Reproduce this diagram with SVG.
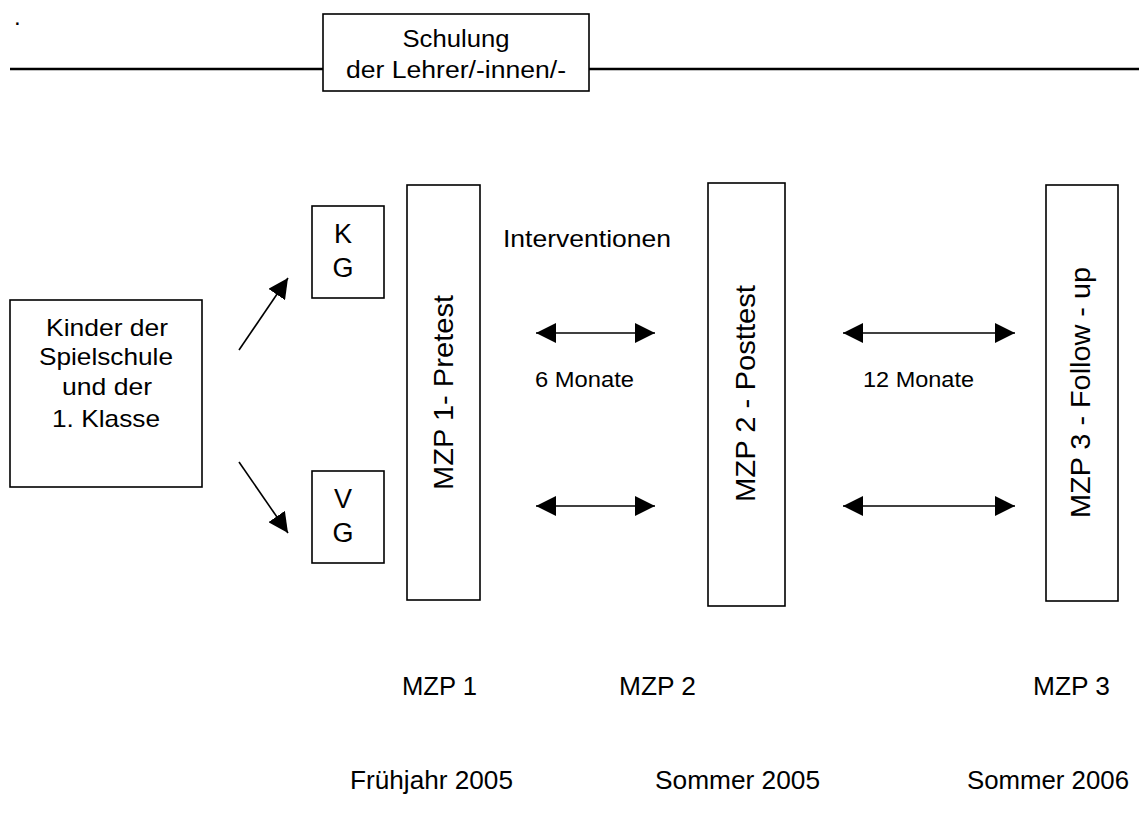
<svg xmlns="http://www.w3.org/2000/svg" width="1139" height="822" viewBox="0 0 1139 822">
<style>
  .box { fill: #fff; stroke: #000; stroke-width: 1.6; }
  .t { font-family: "Liberation Sans", Arial, sans-serif; fill: #000; }
  .conn { stroke: #000; stroke-width: 1.6; fill: none; }
  .rule { stroke: #000; stroke-width: 2.6; fill: none; }
</style>
<defs>
  <marker id="ah" viewBox="0 0 20 20" refX="20" refY="10" markerWidth="20" markerHeight="20" markerUnits="userSpaceOnUse" orient="auto-start-reverse">
    <path d="M0,0 L20,10 L0,20 z" fill="#000"/>
  </marker>
</defs>
<rect width="1139" height="822" fill="#fff"/>

<text class="t" x="14" y="25" font-size="24">.</text>

<g id="schulung-line">
  <line class="rule" x1="10" y1="69" x2="323" y2="69"/>
  <line class="rule" x1="589" y1="69" x2="1139" y2="69"/>
</g>
<g id="schulung">
  <rect class="box" x="323" y="14" width="266" height="77"/>
  <text class="t" x="456" y="47" font-size="23" text-anchor="middle" textLength="107" lengthAdjust="spacingAndGlyphs">Schulung</text>
  <text class="t" x="456" y="78" font-size="23" text-anchor="middle" textLength="220" lengthAdjust="spacingAndGlyphs">der Lehrer/-innen/-</text>
</g>

<g id="kinder">
  <rect class="box" x="10" y="300" width="192" height="187"/>
  <text class="t" x="107" y="336" font-size="24" text-anchor="middle" textLength="122" lengthAdjust="spacingAndGlyphs">Kinder der</text>
  <text class="t" x="106" y="365" font-size="24" text-anchor="middle" textLength="134" lengthAdjust="spacingAndGlyphs">Spielschule</text>
  <text class="t" x="107" y="395" font-size="24" text-anchor="middle" textLength="90" lengthAdjust="spacingAndGlyphs">und der</text>
  <text class="t" x="106" y="427" font-size="24" text-anchor="middle" textLength="108" lengthAdjust="spacingAndGlyphs">1. Klasse</text>
</g>

<g id="kg">
  <rect class="box" x="312" y="206" width="72" height="92"/>
  <text class="t" x="343" y="243" font-size="27" text-anchor="middle">K</text>
  <text class="t" x="343" y="277" font-size="27" text-anchor="middle">G</text>
</g>
<g id="vg">
  <rect class="box" x="312" y="471" width="72" height="92"/>
  <text class="t" x="343" y="508" font-size="27" text-anchor="middle">V</text>
  <text class="t" x="343" y="542" font-size="27" text-anchor="middle">G</text>
</g>

<g id="mzp1">
  <rect class="box" x="407" y="185" width="73" height="415"/>
  <text class="t" transform="translate(453,392.5) rotate(-90)" font-size="28.5" text-anchor="middle" textLength="195" lengthAdjust="spacingAndGlyphs">MZP 1- Pretest</text>
</g>
<g id="mzp2">
  <rect class="box" x="708" y="183" width="77" height="423"/>
  <text class="t" transform="translate(755,393.5) rotate(-90)" font-size="28.5" text-anchor="middle" textLength="217" lengthAdjust="spacingAndGlyphs">MZP 2 - Posttest</text>
</g>
<g id="mzp3">
  <rect class="box" x="1046" y="185" width="72" height="416"/>
  <text class="t" transform="translate(1090,392.5) rotate(-90)" font-size="28.5" text-anchor="middle" textLength="251" lengthAdjust="spacingAndGlyphs">MZP 3 - Follow - up</text>
</g>

<g id="connectors">
  <line class="conn" x1="239" y1="350" x2="288" y2="278" marker-end="url(#ah)"/>
  <line class="conn" x1="239" y1="462" x2="288" y2="533" marker-end="url(#ah)"/>
  <line class="conn" x1="536" y1="333" x2="655" y2="333" marker-start="url(#ah)" marker-end="url(#ah)"/>
  <line class="conn" x1="536" y1="506" x2="655" y2="506" marker-start="url(#ah)" marker-end="url(#ah)"/>
  <line class="conn" x1="843" y1="333" x2="1015" y2="333" marker-start="url(#ah)" marker-end="url(#ah)"/>
  <line class="conn" x1="843" y1="506" x2="1015" y2="506" marker-start="url(#ah)" marker-end="url(#ah)"/>
</g>

<g id="labels">
  <text class="t" x="503" y="247" font-size="24" textLength="168" lengthAdjust="spacingAndGlyphs">Interventionen</text>
  <text class="t" x="535" y="387" font-size="22" textLength="99" lengthAdjust="spacingAndGlyphs">6 Monate</text>
  <text class="t" x="863" y="387" font-size="22" textLength="111" lengthAdjust="spacingAndGlyphs">12 Monate</text>
  <text class="t" x="402" y="695" font-size="26" textLength="75" lengthAdjust="spacingAndGlyphs">MZP 1</text>
  <text class="t" x="619" y="695" font-size="26" textLength="77" lengthAdjust="spacingAndGlyphs">MZP 2</text>
  <text class="t" x="1033" y="695" font-size="26" textLength="77" lengthAdjust="spacingAndGlyphs">MZP 3</text>
  <text class="t" x="350" y="789" font-size="26" textLength="163" lengthAdjust="spacingAndGlyphs">Frühjahr 2005</text>
  <text class="t" x="655" y="789" font-size="26" textLength="165" lengthAdjust="spacingAndGlyphs">Sommer 2005</text>
  <text class="t" x="967" y="789" font-size="26" textLength="162" lengthAdjust="spacingAndGlyphs">Sommer 2006</text>
</g>
</svg>
